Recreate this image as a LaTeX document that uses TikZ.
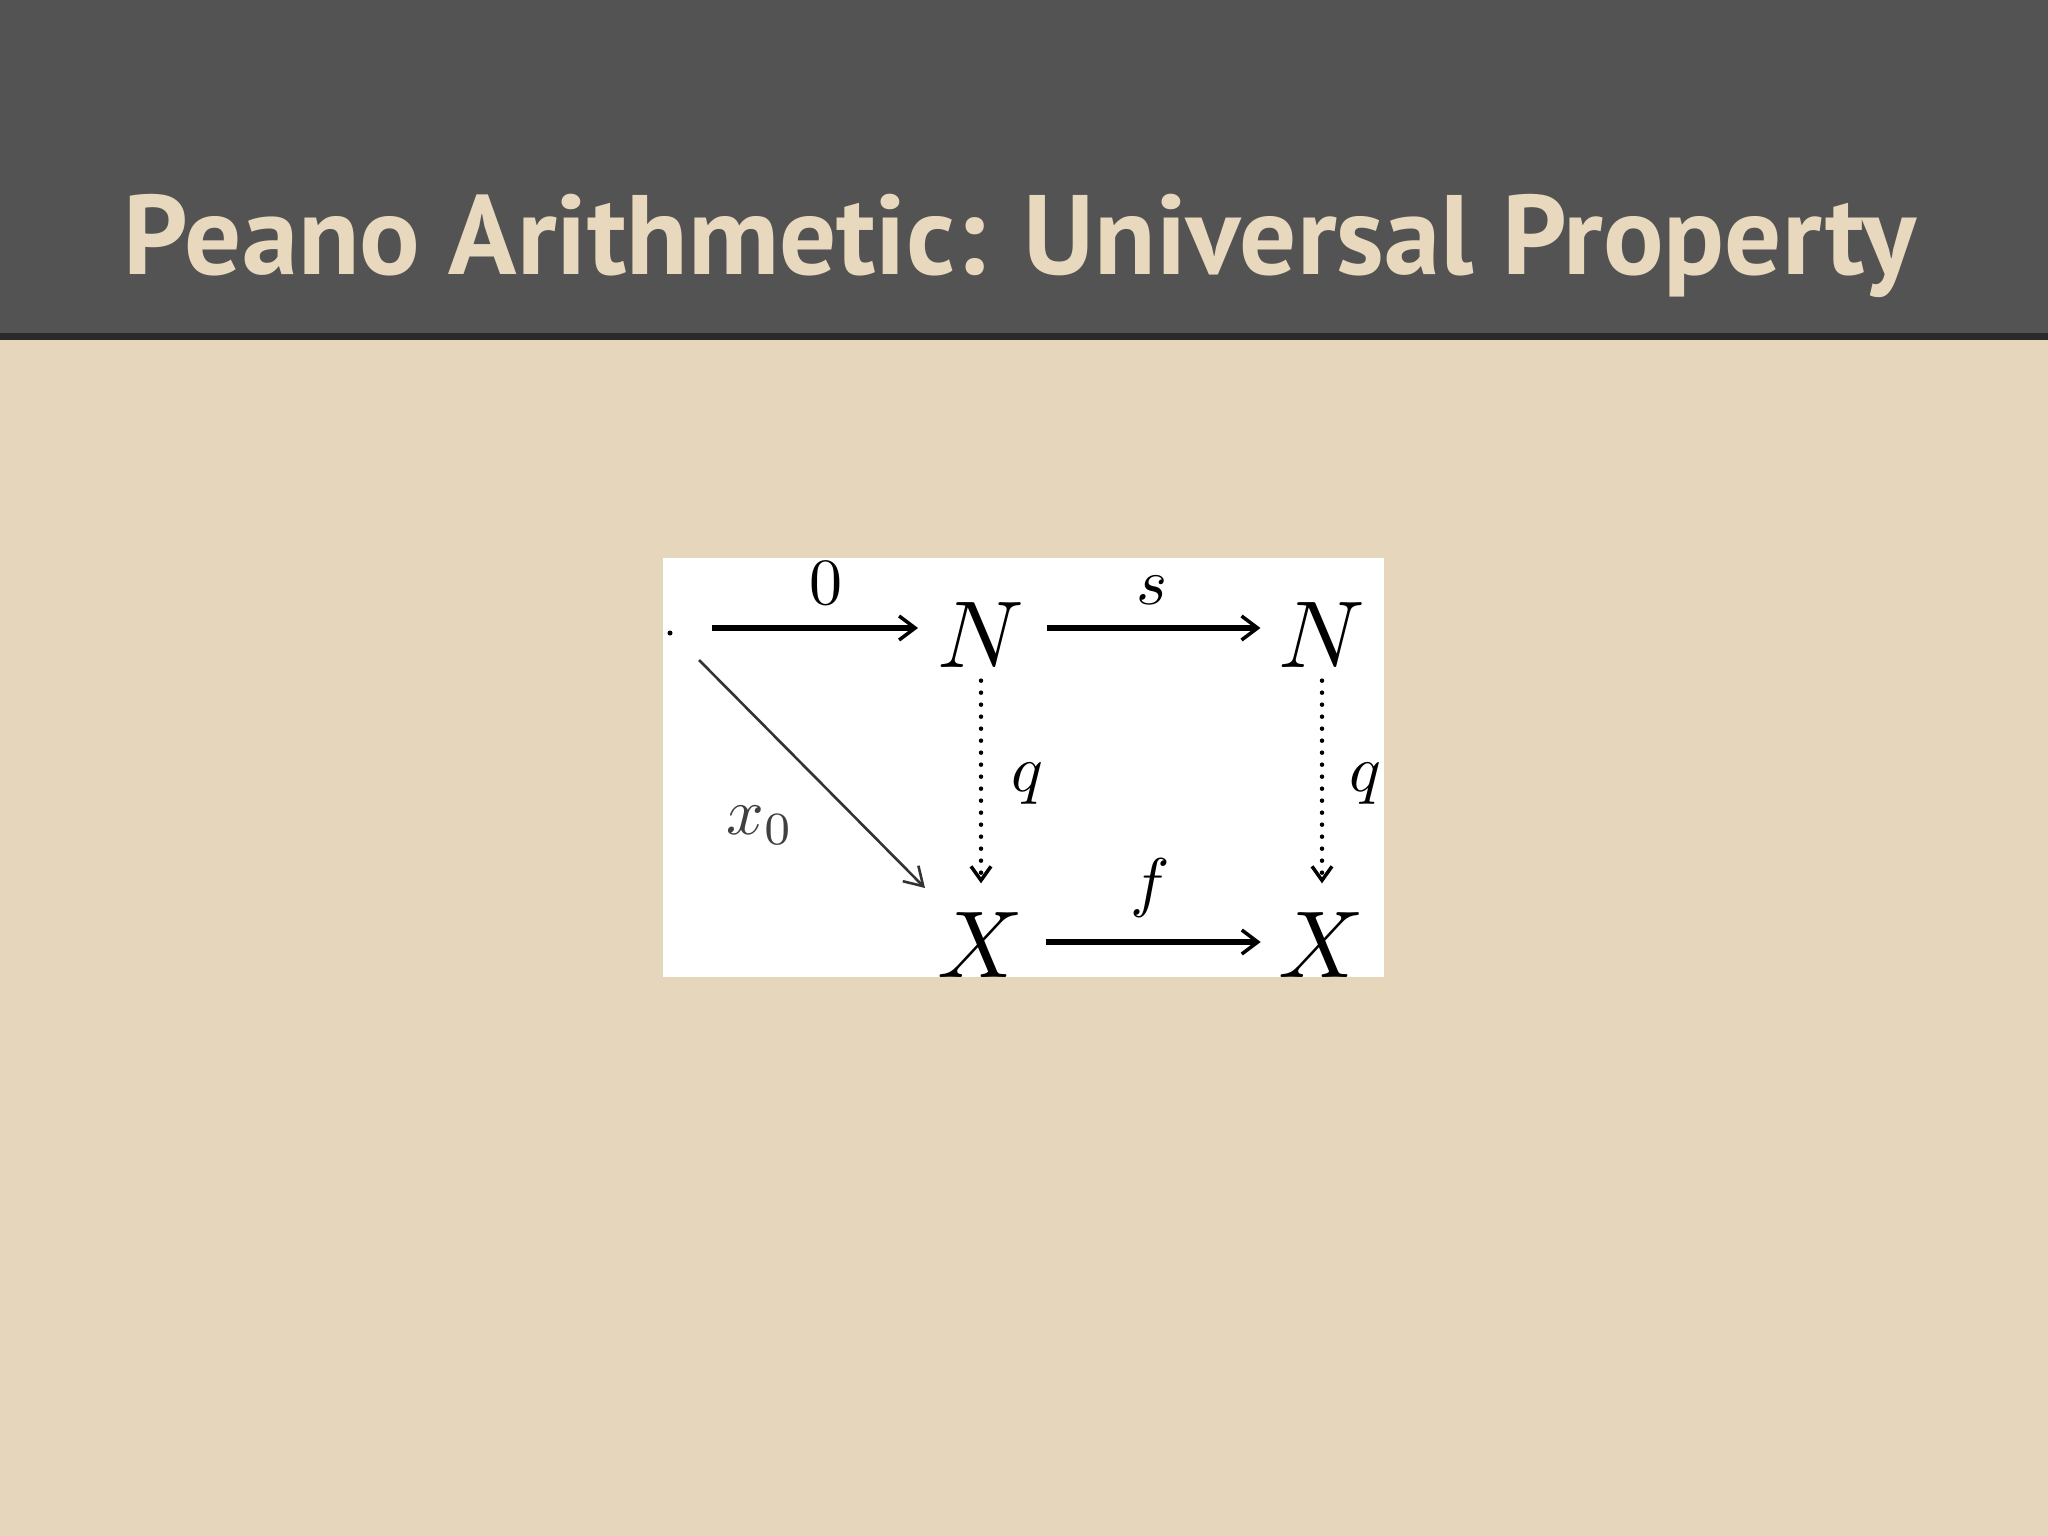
\documentclass[tikz,border=0pt]{standalone}
\usepackage{graphicx}
\usepackage{fontspec}
\newfontfamily\titlefont{PT Sans}[BoldFont={* Bold}]
\usetikzlibrary{arrows.meta}
\definecolor{bandgray}{HTML}{535353}
\definecolor{bandline}{HTML}{2A2A2A}
\definecolor{beige}{HTML}{E6D6BB}
\definecolor{titlecol}{HTML}{E8D8BE}
\newcommand{\bigobj}[1]{\scalebox{9.5}{$#1$}}
\newcommand{\biglab}[1]{\scalebox{6.6}{$#1$}}
\tikzset{
  obj/.style={inner sep=0pt},
  lab/.style={inner sep=0pt},
  mor/.style={line width=6pt, -{Straight Barb[length=16pt,width=24pt,line width=3.5pt]}},
  dmor/.style={line width=4.5pt, line cap=round, dash pattern=on 0pt off 12pt, -{Straight Barb[length=14pt,width=20pt,line width=3.5pt]}},
  thinmor/.style={line width=2.6pt, draw=black!80, -{Straight Barb[length=18pt,width=22pt,line width=2.6pt]}},
}
\begin{document}
\begin{tikzpicture}[x=1pt,y=-1pt]
\useasboundingbox (0,0) rectangle (2048,1536);
\fill[beige] (0,0) rectangle (2048,1536);
\fill[bandgray] (0,0) rectangle (2048,333);
\fill[bandline] (0,333) rectangle (2048,340);
\node[anchor=base, inner sep=0pt, text=titlecol] (title) at (1020,274)
  {\resizebox{1792pt}{!}{\titlefont\bfseries Peano Arithmetic: Universal Property}};
\fill[white] (663,558) rectangle (1384,977);
\begin{scope}
\clip (663,558) rectangle (1384,977);
\node[circle, fill=black, inner sep=0pt, minimum size=5pt] (one) at (670,633) {};
\node[obj] (N1) at (981,635) {\bigobj{N}};
\node[obj] (N2) at (1322,635) {\bigobj{N}};
\node[obj] (X1) at (981,945) {\bigobj{X}};
\node[obj] (X2) at (1322,945) {\bigobj{X}};
\coordinate (a0s) at (712,628);
\coordinate (a0e) at (918,628);
\coordinate (fy) at (0,942);
\draw[mor] (a0s) -- (a0e);
\node[lab] (l0) at (826,583) {\biglab{0}};
\draw[mor] ([xshift=22pt]N1.east |- a0s) -- ([xshift=-18pt]N2.west |- a0s);
\node[lab] (ls) at (1152,590) {\biglab{s}};
\draw[mor] ([xshift=22pt]X1.east |- fy) -- ([xshift=-18pt]X2.west |- fy);
\node[lab] (lf) at (1150,888) {\biglab{f}};
\draw[dmor] ([yshift=-13pt]N1.south) -- ([yshift=29pt]X1.north);
\node[lab] (lq1) at (1027,784) {\biglab{q}};
\draw[dmor] ([yshift=-13pt]N2.south) -- ([yshift=29pt]X2.north);
\node[lab] (lq2) at (1365,784) {\biglab{q}};
\draw[thinmor] (699,660) -- (925,888);
\node[lab, text=black!75] (lx) at (760,825) {\biglab{x_0}};
\end{scope}
\end{tikzpicture}
\end{document}
